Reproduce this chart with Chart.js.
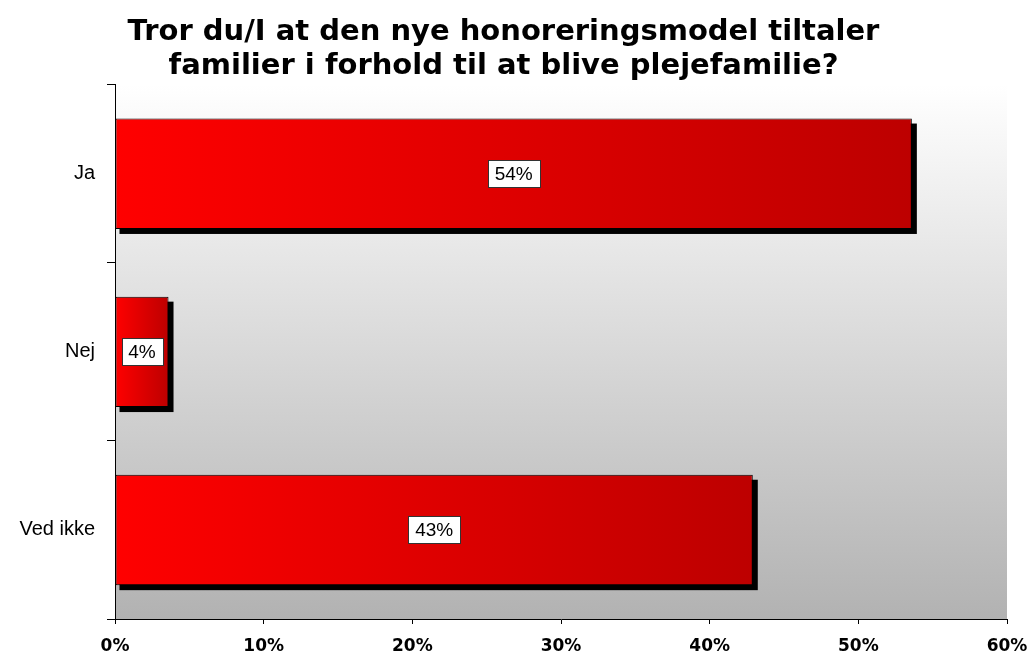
<!DOCTYPE html>
<html>
<head>
<meta charset="utf-8">
<script src="https://cdn.jsdelivr.net/npm/chart.js@4"></script>
<style>
  html, body { margin: 0; padding: 0; background: #fff; }
  #wrap { width: 1029px; height: 655px; }
</style>
</head>
<body>
<div id="wrap"><canvas id="chart" width="1029" height="655"></canvas></div>
<script>
const categories = ['Ja', 'Nej', 'Ved ikke'];
const values = [53.6, 3.6, 42.9];
const valueLabels = ['54%', '4%', '43%'];
const titleLines = ['Tror du/I at den nye honoreringsmodel tiltaler', 'familier i forhold til at blive plejefamilie?'];

// grey gradient behind the plot area
const plotBackground = {
    id: 'plotBackground',
    beforeDraw(chart) {
        const { ctx, chartArea: a } = chart;
        const g = ctx.createLinearGradient(0, a.top, 0, a.bottom);
        g.addColorStop(0, '#ffffff');
        g.addColorStop(1, '#b2b2b2');
        ctx.save();
        ctx.fillStyle = g;
        ctx.fillRect(a.left, a.top, a.right - a.left, a.bottom - a.top);
        ctx.restore();
    }
};

// hard black drop shadow under the bars (bar element clips its own shadow, so paint it first)
const barShadow = {
    id: 'barShadow',
    beforeDatasetsDraw(chart) {
        const ctx = chart.ctx;
        const meta = chart.getDatasetMeta(0);
        ctx.save();
        ctx.fillStyle = '#000';
        meta.data.forEach(bar => {
            const left = Math.min(bar.x, bar.base);
            const w = Math.abs(bar.x - bar.base);
            ctx.fillRect(left + 4, bar.y - bar.height / 2 + 5, w + 1, bar.height);
        });
        ctx.restore();
    }
};

// white boxed value labels in the middle of each bar
const boxLabels = {
    id: 'boxLabels',
    afterDatasetsDraw(chart) {
        const ctx = chart.ctx;
        const meta = chart.getDatasetMeta(0);
        ctx.save();
        ctx.font = '19px "Liberation Sans", Arial, sans-serif';
        ctx.textAlign = 'center';
        ctx.textBaseline = 'middle';
        meta.data.forEach((bar, i) => {
            const cx = (bar.x + bar.base) / 2;
            const cy = bar.y;
            const w = Math.round(ctx.measureText(valueLabels[i]).width + 14);
            const h = 27;
            const bx = Math.round(cx - w / 2) + 0.5;
            const by = Math.round(cy - h / 2) + 0.5;
            ctx.fillStyle = '#fff';
            ctx.fillRect(bx, by, w, h);
            ctx.strokeStyle = '#333';
            ctx.lineWidth = 1;
            ctx.strokeRect(bx, by, w, h);
            ctx.fillStyle = '#000';
            ctx.fillText(valueLabels[i], cx, cy + 1);
        });
        ctx.restore();
    }
};

function barGradient(c) {
    const chart = c.chart;
    if (!chart.chartArea || c.type !== 'data') return '#e00000';
    const x = chart.scales.x;
    const x0 = x.getPixelForValue(0);
    const x1 = x.getPixelForValue(c.raw);
    const g = chart.ctx.createLinearGradient(x0, 0, x1, 0);
    g.addColorStop(0, '#ff0000');
    g.addColorStop(1, '#bd0000');
    return g;
}

new Chart(document.getElementById('chart').getContext('2d'), {
    type: 'bar',
    data: {
        labels: categories,
        datasets: [{
            data: values,
            backgroundColor: barGradient,
            borderColor: '#000',
            borderWidth: 1,
            borderSkipped: false,
            barPercentage: 0.62,
            categoryPercentage: 1
        }]
    },
    options: {
        indexAxis: 'y',
        responsive: false,
        animation: false,
        layout: { padding: { left: 0, right: 22, top: 0, bottom: 0 } },
        plugins: {
            legend: { display: false },
            tooltip: { enabled: false },
            title: {
                display: true,
                text: titleLines,
                color: '#000',
                font: { family: '"DejaVu Sans", Verdana, sans-serif', size: 29, weight: 'bold', lineHeight: 1.15 },
                padding: { top: 16, bottom: 2 }
            }
        },
        scales: {
            x: {
                min: 0,
                max: 60,
                ticks: {
                    stepSize: 10,
                    color: '#000',
                    padding: 12,
                    font: { family: '"DejaVu Sans", Verdana, sans-serif', size: 17, weight: 'bold' },
                    callback: v => v + '%'
                },
                grid: { drawOnChartArea: false, tickLength: 5, color: '#000' },
                border: { color: '#000' },
                afterFit(scale) {
                    scale.height = 36;
                    scale.paddingLeft = 0;
                    scale.paddingRight = 0;
                }
            },
            y: {
                ticks: {
                    color: '#000',
                    padding: 12,
                    font: { family: '"Liberation Sans", Arial, sans-serif', size: 20 }
                },
                grid: { offset: true, drawOnChartArea: false, tickLength: 8, color: '#000' },
                border: { color: '#000' },
                afterFit(scale) { scale.width = 115; }
            }
        }
    },
    plugins: [plotBackground, barShadow, boxLabels]
});
</script>
</body>
</html>
